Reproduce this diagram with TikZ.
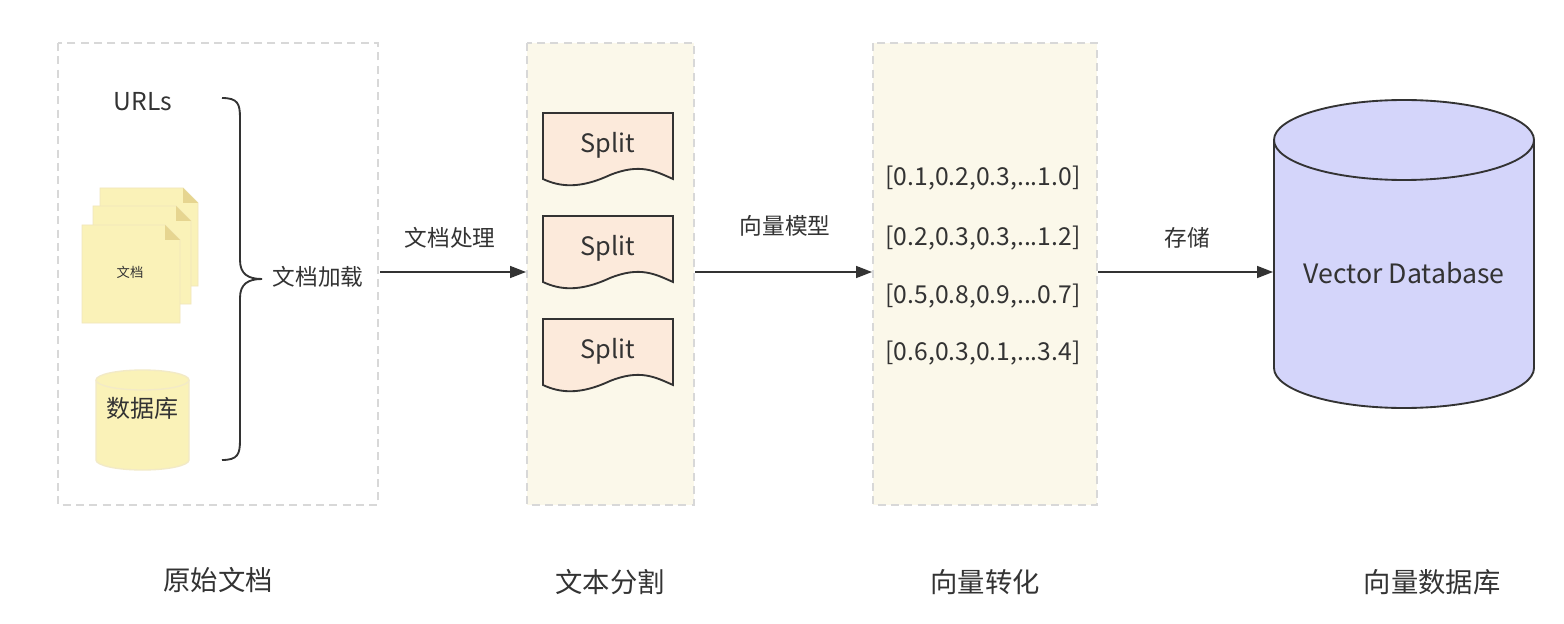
\documentclass[tikz,border=0pt]{standalone}
\usepackage{fontspec}
\setmainfont{Noto Sans CJK SC}
\usetikzlibrary{arrows.meta,shapes.geometric}
\definecolor{cream}{HTML}{FBF8EA}
\definecolor{dash}{HTML}{D8D8D8}
\definecolor{ink}{HTML}{333333}
\definecolor{docy}{HTML}{FAF2B8}
\definecolor{docl}{HTML}{E6D590}
\definecolor{splitf}{HTML}{FCEADB}
\definecolor{dbv}{HTML}{D4D5FA}
\begin{document}
\begin{tikzpicture}[x=0.75pt,y=-0.75pt,
  panel/.style={draw=dash,dashed,line width=1.2pt,dash pattern=on 6pt off 4pt},
  arr/.style={draw=ink,line width=1.2pt,-{Triangle[length=12pt,width=9pt]}},
  lbl/.style={text=ink,font=\fontsize{17}{19}\selectfont},
  captext/.style={text=ink,font=\fontsize{20.5}{23}\selectfont},
  vec/.style={text=ink,font=\fontsize{18.5}{21}\selectfont},
  page/.style={fill=docy,draw=docl!60,line width=0.6pt},
  split/.style={fill=splitf,draw=ink,line width=1.4pt}]
\useasboundingbox (0,0) rectangle (1564,624);
\fill[white] (0,0) rectangle (1564,624);
% panels
\draw[panel,fill=white] (58,43) rectangle (378,505);
\draw[panel,fill=cream] (527,43) rectangle (694,505);
\draw[panel,fill=cream] (873,43) rectangle (1097,505);
% URLs
\node[text=ink,font=\fontsize{18.5}{20}\selectfont] (urls) at (143,102) {URLs};
% doc stack
\foreach \x/\y in {100/188,93/206,82/225}{
  \draw[page] (\x,\y) -- (\x+83,\y) -- (\x+98,\y+15) -- (\x+98,\y+98) -- (\x,\y+98) -- cycle;
  \fill[docl] (\x+83,\y) -- (\x+98,\y+15) -- (\x+83,\y+15) -- cycle;
}
\node[text=ink,font=\fontsize{10}{11}\selectfont] (docs) at (130,272) {文档};
% db small
\fill[docy,draw=docl!50,line width=1pt] (96,380) -- (96,460) arc[start angle=180,end angle=0,x radius=46.5,y radius=10] -- (189,380) arc[start angle=0,end angle=-180,x radius=46.5,y radius=10] -- cycle;
\draw[docl!50,line width=1pt] (96,380) arc[start angle=180,end angle=0,x radius=46.5,y radius=10];
\node[text=ink,font=\fontsize{18}{20}\selectfont] (db) at (142,408) {数据库};
% brace
\draw[ink,line width=1.4pt] (222,98) .. controls (238,98) and (240,104) .. (240,118)
  -- (240,260) .. controls (240,274) and (248,279) .. (262,279)
  .. controls (248,279) and (240,284) .. (240,298)
  -- (240,440) .. controls (240,454) and (238,460) .. (222,460);
\node[lbl,anchor=west] (load) at (268,277) {文档加载};
% splits
\foreach \y/\n in {113/s1,216/s2,319/s3}{
  \draw[split] (543,\y) -- (673,\y) -- (673,\y+66)
    .. controls (655,\y+58) and (640,\y+50) .. (610,\y+62)
    .. controls (580,\y+76) and (560,\y+74) .. (543,\y+66) -- cycle;
  \node[text=ink,font=\fontsize{19}{21}\selectfont] (\n) at (608,\y+32) {Split};
}
% vectors
\node[vec] (v1) at (983,178) {[0.1,0.2,0.3,...1.0]};
\node[vec] (v2) at (983,238) {[0.2,0.3,0.3,...1.2]};
\node[vec] (v3) at (983,296) {[0.5,0.8,0.9,...0.7]};
\node[vec] (v4) at (983,353) {[0.6,0.3,0.1,...3.4]};
% big cylinder
\fill[dbv,draw=ink,line width=1.4pt] (1274,140) -- (1274,368) arc[start angle=180,end angle=0,x radius=130,y radius=40] -- (1534,140) arc[start angle=0,end angle=-180,x radius=130,y radius=40] -- cycle;
\draw[ink,line width=1.4pt] (1274,140) arc[start angle=180,end angle=0,x radius=130,y radius=40];
\node[text=ink,font=\fontsize{20}{22}\selectfont] (vdb) at (1404,273) {Vector Database};
% arrows
\coordinate (a1s) at (380,272); \coordinate (a1e) at (526,272);
\coordinate (a2s) at (695,272); \coordinate (a2e) at (872,272);
\coordinate (a3s) at (1098,272); \coordinate (a3e) at (1273,272);
\draw[arr] (a1s) -- (a1e);
\draw[arr] (a2s) -- (a2e);
\draw[arr] (a3s) -- (a3e);
\node[lbl] (l1) at (450,238) {文档处理};
\node[lbl] (l2) at (785,226) {向量模型};
\node[lbl] (l3) at (1187,238) {存储};
% captions
\node[captext] (c1) at (218,580) {原始文档};
\node[captext] (c2) at (610,582) {文本分割};
\node[captext] (c3) at (985,582) {向量转化};
\node[captext] (c4) at (1432,582) {向量数据库};
\end{tikzpicture}
\end{document}
